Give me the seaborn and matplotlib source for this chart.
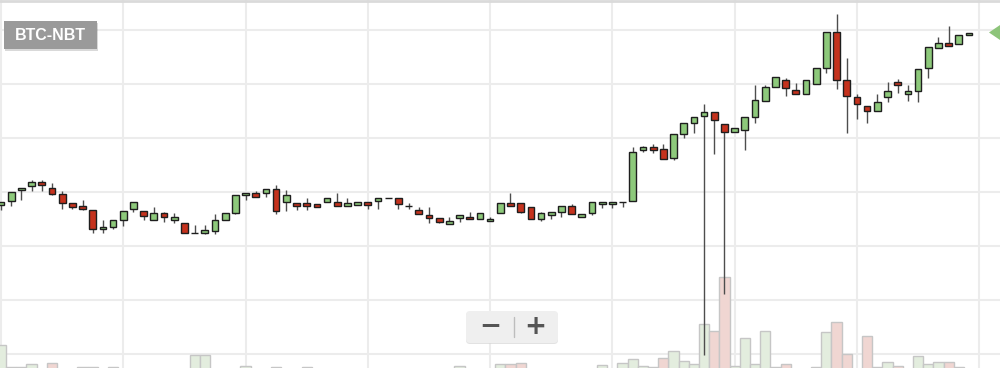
import numpy as np
import pandas as pd
import matplotlib
matplotlib.use("Agg")
import matplotlib.pyplot as plt
from matplotlib.patches import Rectangle, FancyBboxPatch, Polygon
from matplotlib.lines import Line2D
from matplotlib.transforms import IdentityTransform
import seaborn as sns

# ---------------- data ----------------
pair = "BTC-NBT"
candle_idx = list(range(96))

open_ = [203, 207, 218, 222, 226, 220, 214, 205, 202, 198,
         179, 181, 188, 199, 197, 188, 195, 188, 185, 175,
         175, 177, 188, 195, 213, 215, 215, 219, 206, 205,
         205, 204, 206, 206, 202, 203, 206, 207, 210, 210,
         202, 198, 193, 190, 184, 190, 191, 189, 187, 195,
         205, 205, 201, 189, 193, 196, 202, 191, 195, 204,
         204, 206, 207, 258, 261, 259, 250, 274, 285, 292,
         296, 284, 276, 278, 291, 307, 321, 328, 318, 314,
         324, 340, 376, 328, 311, 302, 297, 311, 326, 314,
         317, 340, 360, 365, 364, 373]

high = [206, 216, 220, 228, 228, 225, 217, 205, 208, 198,
        188, 188, 197, 206, 197, 201, 196, 195, 185, 183,
        183, 194, 195, 213, 215, 217, 219, 223, 218, 205,
        210, 204, 210, 215, 210, 206, 206, 210, 210, 210,
        205, 201, 201, 190, 191, 193, 196, 195, 191, 205,
        215, 205, 201, 196, 196, 202, 204, 194, 206, 206,
        206, 206, 261, 262, 264, 264, 274, 285, 291, 304,
        296, 284, 280, 291, 323, 323, 331, 330, 325, 328,
        340, 376, 394, 350, 314, 302, 314, 326, 329, 323,
        339, 361, 371, 382, 373, 375]

low = [198, 202, 208, 217, 217, 213, 199, 199, 198, 175,
       175, 179, 182, 196, 188, 188, 186, 185, 175, 175,
       174, 174, 188, 194, 208, 211, 211, 194, 197, 198,
       198, 201, 206, 202, 202, 203, 199, 199, 210, 199,
       199, 194, 185, 185, 184, 186, 189, 189, 187, 195,
       202, 195, 189, 187, 189, 191, 194, 191, 193, 200,
       200, 201, 207, 256, 255, 249, 248, 270, 275, 53,
       254, 114, 276, 258, 285, 307, 321, 312, 314, 314,
       324, 335, 319, 275, 289, 285, 297, 306, 315, 307,
       306, 330, 360, 362, 364, 373]

close = [206, 216, 220, 226, 223, 214, 205, 201, 199, 179,
         181, 188, 197, 206, 192, 195, 191, 191, 175, 175.5,
         178, 188, 195, 213, 215, 211, 219, 197, 213, 202,
         202, 201, 210, 202, 205, 206, 203, 210, 210, 204,
         202, 194, 190, 186, 187, 193, 189, 195, 189, 205,
         202, 196, 189, 195, 196, 202, 194, 194, 206, 206,
         206, 206, 256, 261, 258, 249, 274, 285, 291, 296,
         288, 276, 280, 291, 308, 321, 331, 320, 314, 328,
         340, 376, 328, 312, 304, 297, 306, 317, 323, 317,
         339, 361, 365, 362, 373, 375]

volume = [27, 5, 5, 8, 2, 9, 2, 2, 5, 5,
          2, 5, 2, 2, 2, 2, 2, 2, 2, 17,
          17, 2, 2, 2, 6, 2, 2, 5, 2, 2,
          5, 2, 2, 2, 2, 2, 2, 2, 2, 2,
          2, 2, 2, 2, 2, 6, 2, 2, 2, 8,
          8, 9, 2, 2, 2, 2, 2, 2, 2, 7,
          2, 9, 13, 6, 5, 14, 21, 11, 8, 48,
          41, 95, 6, 34, 8, 41, 5, 8, 2, 2,
          5, 40, 50, 18, 2, 36, 5, 10, 6, 2,
          16, 8, 10, 10, 5, 2]

last_price = 375

# ---------------- style ----------------
sns.set_theme(style="white")
plt.rcParams['font.family'] = ['Liberation Sans', 'DejaVu Sans']

W, H = 1000, 368
fig = plt.figure(figsize=(W / 100, H / 100), dpi=100)
fig.patch.set_facecolor("white")

ax_vol = fig.add_axes([0, 0, 1, 1])
ax = fig.add_axes([0, 0, 1, 1])
ax.patch.set_alpha(0)

df = pd.DataFrame(dict(i=candle_idx, o=open_, h=high, l=low, c=close, v=volume))
df["dir"] = np.where(df.c >= df.o, "up", "down")

XLIM = (-0.1, 98.04)

# volume bars
sns.barplot(data=df, x="i", y="v", hue="dir",
            palette={"up": "#e2f0db", "down": "#f5d2cd"},
            dodge=False, native_scale=True, width=1.0, errorbar=None,
            edgecolor="#c6c6c6", linewidth=1.0, legend=False, ax=ax_vol,
            zorder=2)
ax_vol.set_xlim(*XLIM)
ax_vol.set_ylim(4, 372)
ax_vol.set_xticks(range(0, 97, 12))
ax_vol.set_yticks([18, 72, 126, 180, 234, 288, 342])
ax_vol.grid(True, color="#ececec", lw=1.5)
ax_vol.set_axisbelow(True)
ax_vol.tick_params(length=0, labelbottom=False, labelleft=False)
ax_vol.set_xlabel("")
ax_vol.set_ylabel("")
for s in ax_vol.spines.values():
    s.set_visible(False)

# candles
up = (df.c >= df.o).values
ax.vlines(df.i, df.l, df.h, color="#4d4d4d", lw=1.0, zorder=2)
ax.bar(df.i, (df.c - df.o).abs(), bottom=np.minimum(df.o, df.c), width=0.66,
       color=np.where(up, "#8dc97b", "#c5321d"), edgecolor="#1e1e1e",
       linewidth=1.0, zorder=3)
ax.set_xlim(*XLIM)
ax.set_ylim(40, 408)
ax.set_axis_off()

# last-price marker at right edge
def disp(x, y):
    return (x, H - y)

tri = Polygon([disp(989, 32.5), disp(1003, 23), disp(1003, 42)], closed=True,
              transform=IdentityTransform(), fc="#8dc47a", ec="none")
fig.add_artist(tri)

# top border
fig.add_artist(Line2D([0, W], [H - 1, H - 1], transform=IdentityTransform(),
                      color="#dadada", lw=2))

# pair label
fig.add_artist(Rectangle((5, H - 51), 93, 28, transform=IdentityTransform(),
                         fc="#000000", alpha=0.15, ec="none"))
fig.add_artist(Rectangle((4, H - 49), 93, 28, transform=IdentityTransform(),
                         fc="#9a9a9a", ec="none"))
fig.text(50.5 / W, 1 - 35.5 / H, pair, ha="center", va="center",
         color="white", fontsize=11.5, fontweight="bold")

# zoom control
fig.add_artist(FancyBboxPatch((466, H - 344), 92, 32,
                              boxstyle="round,pad=0,rounding_size=4",
                              transform=IdentityTransform(),
                              fc="#d6d6d6", ec="none", alpha=0.7))
fig.add_artist(FancyBboxPatch((466, H - 343), 92, 32,
                              boxstyle="round,pad=0,rounding_size=4",
                              transform=IdentityTransform(),
                              fc="#efefef", ec="none"))
fig.add_artist(Line2D([514, 514], [H - 317, H - 337], transform=IdentityTransform(),
                      color="#bdbdbd", lw=1))
fig.text(490 / W, 1 - 327 / H, "\u2212", ha="center", va="center",
         color="#555555", fontsize=19, fontweight="bold", family="DejaVu Sans")
fig.text(535 / W, 1 - 327 / H, "+", ha="center", va="center",
         color="#555555", fontsize=19, fontweight="bold", family="DejaVu Sans")

fig.savefig("out.png", dpi=100)
